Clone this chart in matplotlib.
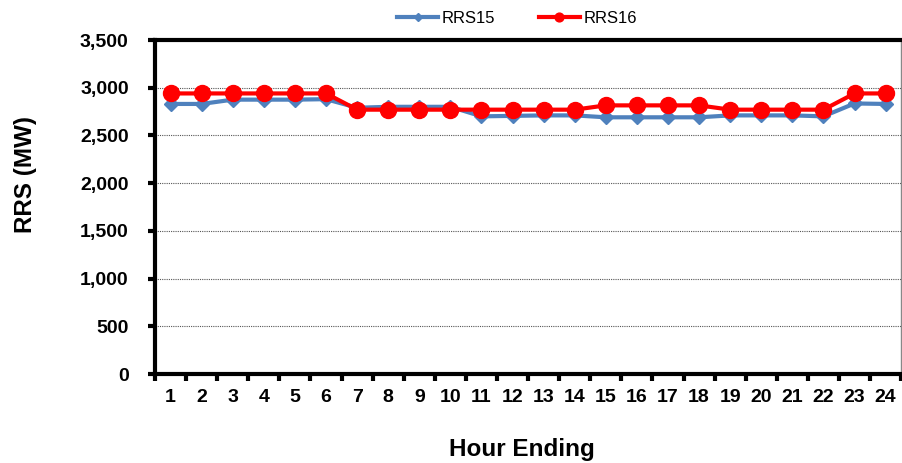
import numpy as np
import matplotlib
matplotlib.use("Agg")
import matplotlib.pyplot as plt
from matplotlib.ticker import FuncFormatter, FixedLocator

plt.rcParams['font.family'] = ['Liberation Sans', 'DejaVu Sans']

hours = list(range(1, 25))
rrs15 = [2830, 2830, 2875, 2875, 2875, 2880, 2790, 2800, 2800, 2800, 2700, 2705,
         2710, 2710, 2690, 2690, 2690, 2690, 2710, 2710, 2710, 2700, 2835, 2830]
rrs16 = [2940, 2940, 2940, 2940, 2940, 2940, 2770, 2770, 2770, 2770, 2770, 2770,
         2770, 2770, 2815, 2815, 2815, 2815, 2770, 2770, 2770, 2770, 2940, 2940]

fig = plt.figure(figsize=(9.03, 4.63), dpi=100)
ax = fig.add_axes([0.1717, 0.1922, 0.8263, 0.7214])

ax.plot(hours, rrs15, color='#4f81bd', lw=3, marker='D', ms=7,
        label='RRS15', zorder=3)
ax.plot(hours, rrs16, color='#ff0000', lw=3, marker='o', ms=11.5,
        label='RRS16', zorder=4)

ax.set_xlim(0.5, 24.5)
ax.set_ylim(0, 3500)
ax.set_yticks(np.arange(0, 3501, 500))
ax.yaxis.set_major_formatter(FuncFormatter(lambda v, p: f"{int(v):,}"))
ax.set_xticks(hours)
ax.xaxis.set_major_locator(FixedLocator(hours))
ax.xaxis.set_minor_locator(FixedLocator(np.arange(0.5, 25, 1)))
ax.tick_params(axis='x', which='major', length=0, pad=11, labelsize=14)
ax.tick_params(axis='x', which='minor', length=5, width=3, direction='out')
ax.tick_params(axis='y', length=5, width=3, pad=14, labelsize=14)
for lbl in ax.get_xticklabels() + ax.get_yticklabels():
    lbl.set_fontweight('bold')

ax.grid(axis='y', color='#555555', ls=(0, (1, 1)), lw=0.8)
ax.set_axisbelow(True)

for s in ['left', 'bottom', 'top']:
    ax.spines[s].set_linewidth(3)
    ax.spines[s].set_color('black')
ax.spines['right'].set_linewidth(1)
ax.spines['right'].set_color('#888888')

ax.set_ylabel('RRS (MW)', fontsize=17.5, fontweight='bold', va='center')
ax.yaxis.set_label_coords(-0.174, 0.596)
ax.set_xlabel('Hour Ending', fontsize=17.5, fontweight='bold', va='center')
ax.xaxis.set_label_coords(0.492, -0.225)

ax.legend(loc='center', bbox_to_anchor=(0.485, 1.065), ncol=2, frameon=False,
          fontsize=12, handlelength=2.5, handletextpad=0.2, columnspacing=2.6,
          markerscale=0.55)

fig.savefig('out.png', dpi=100)
